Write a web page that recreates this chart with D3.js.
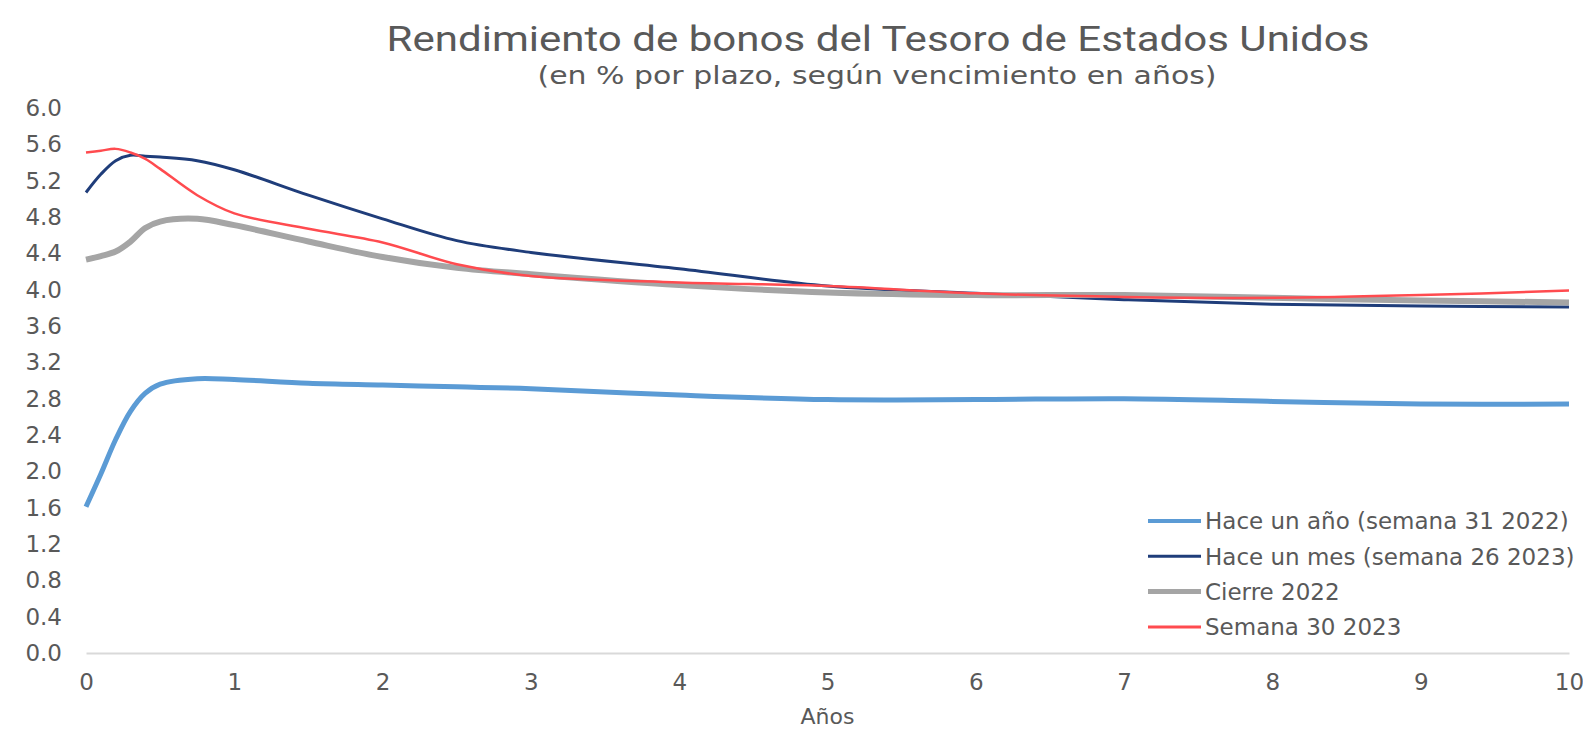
<!DOCTYPE html>
<html>
<head>
<meta charset="utf-8">
<script src="https://cdn.jsdelivr.net/npm/d3@7"></script>
<style>
  body { margin: 0; background: #fff; }
  text { font-family: "DejaVu Sans", sans-serif; fill: #595959; }
</style>
</head>
<body>
<script>
// plazos (años) y rendimientos (%)
var plazos = [0, 0.1, 0.2, 0.3, 0.4, 0.5, 0.75, 1, 1.5, 2, 2.5, 3, 4, 5, 6, 7, 8, 9, 10];
var haceUnAno = [1.61, 1.97, 2.35, 2.66, 2.86, 2.96, 3.02, 3.01, 2.97, 2.95, 2.93, 2.91, 2.84, 2.79, 2.79, 2.80, 2.77, 2.74, 2.74];
var haceUnMes = [5.07, 5.27, 5.42, 5.48, 5.47, 5.46, 5.42, 5.32, 5.04, 4.78, 4.54, 4.41, 4.23, 4.04, 3.96, 3.89, 3.84, 3.82, 3.81];
var cierre2022 = [4.33, 4.37, 4.42, 4.53, 4.68, 4.75, 4.78, 4.71, 4.53, 4.36, 4.24, 4.17, 4.05, 3.97, 3.94, 3.94, 3.91, 3.88, 3.86];
var semana30 = [5.51, 5.53, 5.55, 5.51, 5.44, 5.33, 5.04, 4.84, 4.67, 4.52, 4.28, 4.15, 4.08, 4.04, 3.96, 3.92, 3.91, 3.94, 3.99];

var yTicks = [0, 0.4, 0.8, 1.2, 1.6, 2.0, 2.4, 2.8, 3.2, 3.6, 4.0, 4.4, 4.8, 5.2, 5.6, 6.0];
var xTicks = [0, 1, 2, 3, 4, 5, 6, 7, 8, 9, 10];

var series = [
  {name: "Hace un año (semana 31 2022)", values: haceUnAno, color: "#5b9bd5", w: 5},
  {name: "Hace un mes (semana 26 2023)", values: haceUnMes, color: "#1f3d7a", w: 3},
  {name: "Cierre 2022", values: cierre2022, color: "#a5a5a5", w: 6},
  {name: "Semana 30 2023", values: semana30, color: "#ff4b4f", w: 2.5}
];

var W = 1583, H = 729;
var margin = {top: 108, right: 14, bottom: 76, left: 86},
    width = W - margin.left - margin.right,
    height = H - margin.top - margin.bottom;

var svg = d3.select("body").append("svg")
    .attr("width", W)
    .attr("height", H);

var g = svg.append("g")
    .attr("transform", "translate(" + margin.left + "," + margin.top + ")");

var x = d3.scaleLinear().domain([0, 10]).range([0, width]);
var y = d3.scaleLinear().domain([0, 6]).range([height, 0]);

// titles
svg.append("text")
    .attr("x", 878).attr("y", 51)
    .attr("text-anchor", "middle")
    .attr("textLength", 983).attr("lengthAdjust", "spacingAndGlyphs")
    .style("font-family", "Roboto, sans-serif")
    .style("font-size", "35px")
    .text("Rendimiento de bonos del Tesoro de Estados Unidos");

svg.append("text")
    .attr("x", 877).attr("y", 84)
    .attr("text-anchor", "middle")
    .attr("textLength", 679).attr("lengthAdjust", "spacingAndGlyphs")
    .style("font-size", "25px")
    .text("(en % por plazo, según vencimiento en años)");

// x axis
var xAxis = g.append("g")
    .attr("transform", "translate(0," + height + ")")
    .call(d3.axisBottom(x).tickValues(xTicks).tickSize(0).tickPadding(21).tickFormat(d3.format("d")));
xAxis.select(".domain").attr("stroke", "#d9d9d9").attr("stroke-width", 2);
xAxis.selectAll("text").style("font-size", "23px").style("fill", "#595959");

// y axis
var yAxis = g.append("g")
    .call(d3.axisLeft(y).tickValues(yTicks).tickSize(0).tickPadding(24).tickFormat(d3.format(".1f")));
yAxis.select(".domain").remove();
yAxis.selectAll("text").style("font-size", "23px").style("fill", "#595959");

svg.append("text")
    .attr("x", margin.left + width / 2).attr("y", 724)
    .attr("text-anchor", "middle")
    .style("font-size", "22px")
    .text("Años");

// lines
var line = d3.line()
    .x(function(d, i) { return x(plazos[i]); })
    .y(function(d) { return y(d); })
    .curve(d3.curveCatmullRom.alpha(0.5));

g.selectAll(".serie")
    .data(series)
    .enter().append("path")
    .attr("class", "serie")
    .attr("fill", "none")
    .attr("stroke", function(d) { return d.color; })
    .attr("stroke-width", function(d) { return d.w; })
    .attr("stroke-linejoin", "round")
    .attr("d", function(d) { return line(d.values); });

// legend
var legend = svg.append("g")
    .attr("transform", "translate(1148,521)");

var item = legend.selectAll(".item")
    .data(series)
    .enter().append("g")
    .attr("class", "item")
    .attr("transform", function(d, i) { return "translate(0," + (i * 35.3) + ")"; });

item.append("line")
    .attr("x1", 0).attr("x2", 53)
    .attr("stroke", function(d) { return d.color; })
    .attr("stroke-width", function(d) { return Math.max(d.w - 1, 3); });

item.append("text")
    .attr("x", 57).attr("y", 0)
    .attr("dy", "0.36em")
    .style("font-size", "23px")
    .text(function(d) { return d.name; });
</script>
</body>
</html>
